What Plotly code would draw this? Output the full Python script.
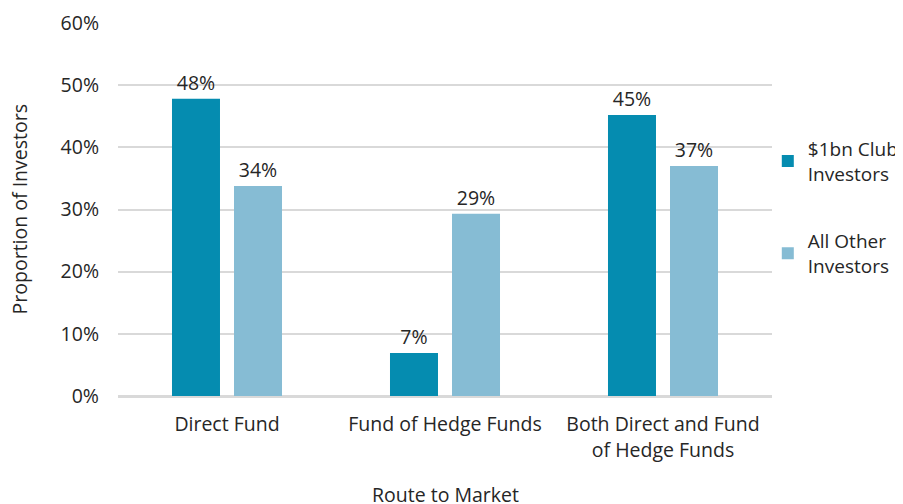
import plotly.graph_objects as go

categories = ["Direct Fund", "Fund of Hedge Funds", "Both Direct and Fund<br>of Hedge Funds"]
club_values = [0.478, 0.069, 0.452]
other_values = [0.338, 0.293, 0.370]
club_labels = ["48%", "7%", "45%"]
other_labels = ["34%", "29%", "37%"]
series_names = ["$1bn Club<br>Investors", "All Other<br>Investors"]
y_ticks = [0, 0.1, 0.2, 0.3, 0.4, 0.5, 0.6]
y_tick_labels = ["0%", "10%", "20%", "30%", "40%", "50%", "60%"]
x_title = "Route to Market"
y_title = "Proportion of Investors"

FONT = "Open Sans"
TXT = "#262626"
FS = 19.5

fig = go.Figure()
fig.add_trace(go.Bar(
    x=categories, y=club_values, name=series_names[0],
    marker=dict(color="#058CB0", line=dict(width=0)),
    text=club_labels, textposition="outside", cliponaxis=False,
    textfont=dict(family=FONT, size=FS, color=TXT),
    legendgroup="a",
))
fig.add_trace(go.Bar(
    x=categories, y=other_values, name=series_names[1],
    marker=dict(color="#86BCD4", line=dict(width=0)),
    text=other_labels, textposition="outside", cliponaxis=False,
    textfont=dict(family=FONT, size=FS, color=TXT),
    legendgroup="b",
))

# the page body has an 8px margin: the figure is drawn from (8, 8)
fig.update_layout(
    width=895, height=496,
    margin=dict(l=110, r=131, t=15, b=108, autoexpand=False),
    plot_bgcolor="white", paper_bgcolor="white",
    font=dict(family=FONT, size=FS, color=TXT),
    barmode="group", bargap=0.431, bargroupgap=0.226,
    showlegend=True,
    legend=dict(
        x=1.2, y=0.714, xanchor="right", yanchor="top",
        font=dict(family=FONT, size=19, color=TXT),
        tracegroupgap=40, itemwidth=30,
        bgcolor="rgba(0,0,0,0)",
    ),
    xaxis=dict(
        tickfont=dict(family=FONT, size=FS, color=TXT),
        showgrid=False, showline=True, linecolor="#D9D9D9", linewidth=1.5,
        ticks="", automargin=False, ticklabelstandoff=10,
    ),
    yaxis=dict(
        range=[0, 0.6], tickvals=y_ticks, ticktext=y_tick_labels,
        tickfont=dict(family=FONT, size=FS, color=TXT),
        showgrid=True, gridcolor="#D9D9D9", gridwidth=1.5,
        zeroline=True, zerolinecolor="#D9D9D9", zerolinewidth=1.5,
        showline=False, ticks="", ticklen=0, automargin=False,
        ticklabelstandoff=18,
    ),
    annotations=[
        dict(text=x_title, xref="paper", yref="paper", x=0.5, y=-0.265,
             xanchor="center", yanchor="middle", showarrow=False,
             font=dict(family=FONT, size=FS, color=TXT)),
        dict(text=y_title, xref="paper", yref="paper", x=-0.15, y=0.5,
             xanchor="center", yanchor="middle", showarrow=False, textangle=-90,
             font=dict(family=FONT, size=FS, color=TXT)),
    ],
)

fig.write_html("out.html")
